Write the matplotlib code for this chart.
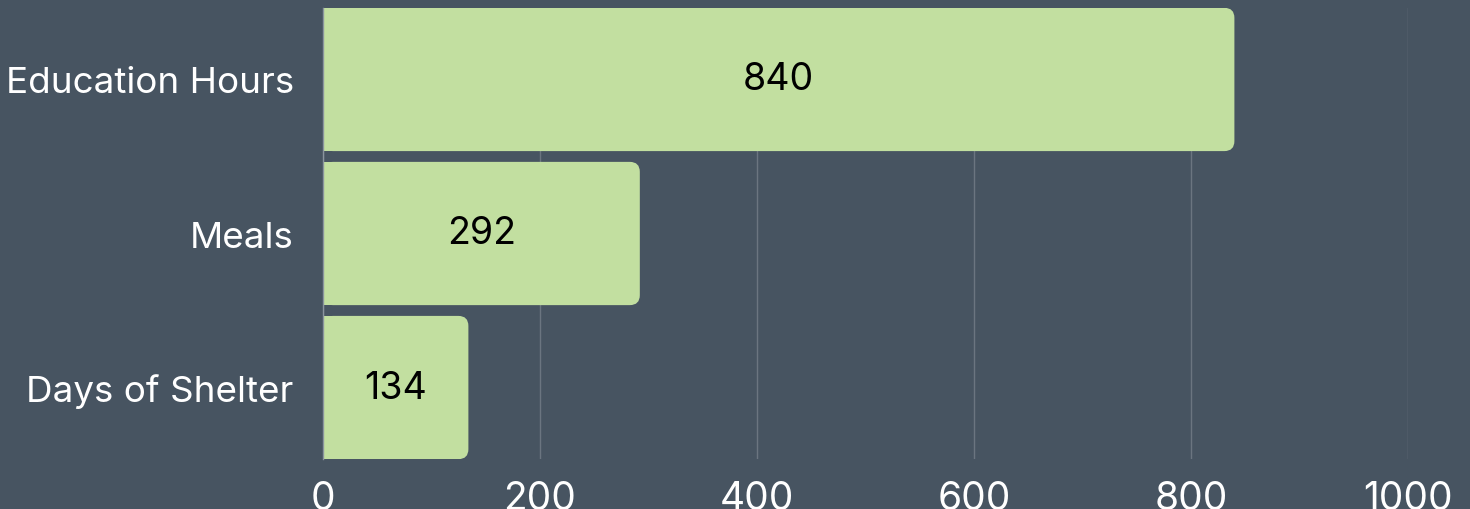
import matplotlib.pyplot as plt
from matplotlib.patches import FancyBboxPatch, Rectangle

categories = ['Education Hours', 'Meals', 'Days of Shelter']
values = [840, 292, 134]
x_ticks = [0, 200, 400, 600, 800, 1000]

bg = '#475461'
bar_color = '#c2dfa0'

plt.rcParams['font.family'] = ['Inter', 'DejaVu Sans']

fig = plt.figure(figsize=(14.7, 5.1), dpi=100, facecolor=bg)
ax = fig.add_axes([323 / 1470, 50 / 510, 1085 / 1470, 451 / 510])
ax.set_facecolor(bg)

h = 0.93
ypos = list(range(len(categories)))
ax.set_xlim(0, 1000)
ax.set_ylim(2 + 0.464, -0.464)

# rounded right ends: radius ~10 px
r = 10 / 1.085
aspect = (10 / 154) / r
for y, v in zip(ypos, values):
    box = FancyBboxPatch((0, y - h / 2), v, h,
                         boxstyle=f'round,pad=0,rounding_size={r}',
                         mutation_aspect=aspect,
                         fc=bar_color, ec='none', zorder=2)
    ax.add_patch(box)
    ax.add_patch(Rectangle((0, y - h / 2), v / 2, h, fc=bar_color,
                           ec='none', zorder=2))
    ax.text(v / 2, y, str(v), ha='center', va='center',
            fontsize=27, color='black', zorder=3)

ax.set_yticks(ypos)
ax.set_yticklabels(categories)
ax.set_xticks(x_ticks)
ax.set_xticklabels([str(t) for t in x_ticks])
ax.tick_params(axis='y', length=0, pad=21, labelsize=26.5, labelcolor='white')
ax.tick_params(axis='x', length=0, pad=15, labelsize=28, labelcolor='white')

ax.grid(axis='x', color='#6b7580', linewidth=1, zorder=1)
ax.set_axisbelow(True)
for s in ['top', 'right', 'bottom']:
    ax.spines[s].set_visible(False)
ax.spines['left'].set_color('#8a949e')
ax.spines['left'].set_linewidth(1)
ax.spines['left'].set_zorder(4)

fig.savefig('out.png', dpi=100, facecolor=bg)
